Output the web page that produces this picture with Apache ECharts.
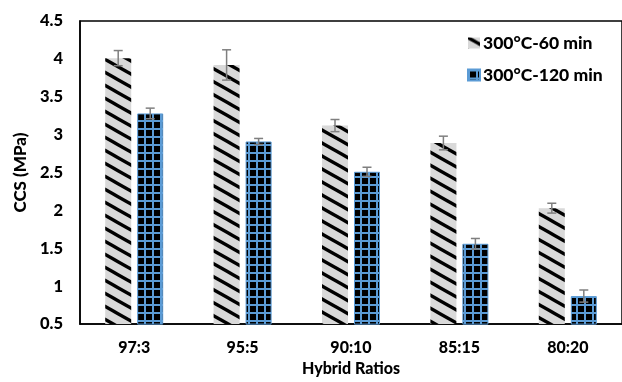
<!DOCTYPE html>
<html>
<head>
<meta charset="utf-8">
<script src="https://cdn.jsdelivr.net/npm/echarts@6/dist/echarts.min.js"></script>
<style>html,body{margin:0;padding:0;background:#fff}#c{width:622px;height:382px}</style>
</head>
<body>
<div id="c"></div>
<script>
const categories = ['97:3', '95:5', '90:10', '85:15', '80:20'];
const seriesNames = ['300°C-60 min', '300°C-120 min'];
const values60 = [4.01, 3.92, 3.12, 2.89, 2.03];
const errors60 = [0.10, 0.20, 0.08, 0.09, 0.065];
const values120 = [3.28, 2.91, 2.51, 1.56, 0.87];
const errors120 = [0.07, 0.04, 0.06, 0.07, 0.08];
const yTicks = { min: 0.5, max: 4.5, interval: 0.5 };

function hatchPattern() {
  const W = 23, H = 13;
  const c = document.createElement('canvas');
  c.width = W; c.height = H;
  const g = c.getContext('2d');
  g.fillStyle = '#d9d9d9';
  g.fillRect(0, 0, W, H);
  g.strokeStyle = '#000';
  g.lineWidth = 3.3;
  for (const dy of [-H, 0, H]) {
    g.beginPath();
    g.moveTo(-W, -H + dy);
    g.lineTo(2 * W, 2 * H + dy);
    g.stroke();
  }
  return { image: c, repeat: 'repeat' };
}
function gridPattern() {
  const T = 8;
  const c = document.createElement('canvas');
  c.width = T; c.height = T;
  const g = c.getContext('2d');
  g.fillStyle = '#000';
  g.fillRect(0, 0, T, T);
  g.fillStyle = '#5b9bd5';
  g.fillRect(0, 0, 2, T);
  g.fillRect(0, 0, T, 2);
  return { image: c, repeat: 'repeat' };
}

const FONT = 'Lato';
const FW = 900;
const BAR_W = 26, GAP = 6;
const offsets = [-(BAR_W + GAP) / 2, (BAR_W + GAP) / 2];

function errSeries(vals, errs, k) {
  return {
    type: 'custom',
    silent: true,
    z: 10,
    data: vals.map((v, i) => [i, v, errs[i]]),
    encode: { x: 0, y: 1 },
    renderItem: function (params, api) {
      const i = api.value(0), v = api.value(1), e = api.value(2);
      const top = api.coord([i, v + e]);
      const bot = api.coord([i, v - e]);
      const x = top[0] + offsets[k];
      const style = { stroke: '#7f7f7f', lineWidth: 1.5 };
      return {
        type: 'group',
        children: [
          { type: 'line', shape: { x1: x, y1: top[1], x2: x, y2: bot[1] }, style },
          { type: 'line', shape: { x1: x - 4.5, y1: top[1], x2: x + 4.5, y2: top[1] }, style },
          { type: 'line', shape: { x1: x - 4.5, y1: bot[1], x2: x + 4.5, y2: bot[1] }, style }
        ]
      };
    }
  };
}

const chart = echarts.init(document.getElementById('c'), null, { renderer: 'canvas' });
chart.setOption({
  animation: false,
  backgroundColor: '#fff',
  textStyle: { fontFamily: FONT },
  grid: { left: 80, right: -11, top: 21, bottom: 51, show: true, borderColor: '#000', borderWidth: 1.5, containLabel: false },
  legend: {
    orient: 'vertical',
    left: 462, top: 28,
    itemWidth: 12, itemHeight: 11, itemGap: 12,
    data: seriesNames,
    icon: 'rect',
    textStyle: { fontFamily: FONT, fontWeight: FW, fontSize: 17.5, color: '#000', lineHeight: 20, padding: [0, 0, 0, -2] }
  },
  xAxis: {
    type: 'category',
    data: categories,
    axisTick: { show: false },
    axisLine: { lineStyle: { color: '#000', width: 1.5 } },
    axisLabel: { fontFamily: FONT, fontWeight: FW, fontSize: 16, color: '#000', margin: 16 },
    name: 'Hybrid Ratios',
    nameLocation: 'middle',
    nameGap: 30,
    nameTextStyle: { fontFamily: FONT, fontWeight: FW, fontSize: 16, color: '#000' }
  },
  yAxis: {
    type: 'value',
    min: yTicks.min, max: yTicks.max, interval: yTicks.interval,
    splitLine: { show: false },
    axisLine: { show: true, lineStyle: { color: '#000', width: 1.5 } },
    axisTick: { show: false },
    axisLabel: { fontFamily: FONT, fontWeight: FW, fontSize: 16.5, color: '#000', margin: 17 },
    name: 'CCS (MPa)',
    nameLocation: 'middle',
    nameGap: 49,
    nameTextStyle: { fontFamily: FONT, fontWeight: FW, fontSize: 17, color: '#000' }
  },
  series: [
    {
      name: seriesNames[0], type: 'bar', data: values60,
      barWidth: BAR_W, barGap: (GAP / BAR_W * 100) + '%',
      itemStyle: { color: hatchPattern() }
    },
    {
      name: seriesNames[1], type: 'bar', data: values120,
      barWidth: BAR_W,
      itemStyle: { color: gridPattern(), borderColor: '#5b9bd5', borderWidth: 1 }
    },
    errSeries(values60, errors60, 0),
    errSeries(values120, errors120, 1)
  ]
});
</script>
</body>
</html>
